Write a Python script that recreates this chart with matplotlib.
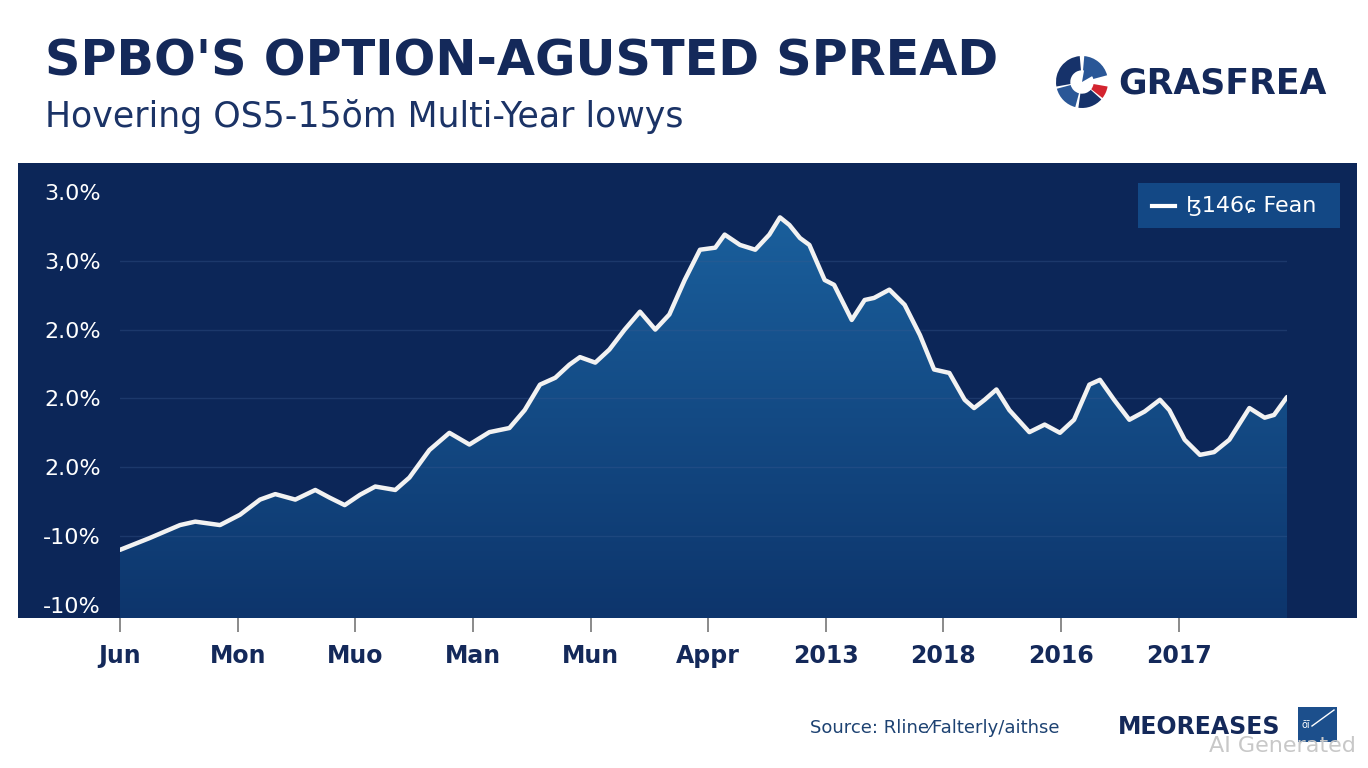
import numpy as np
import matplotlib
matplotlib.use("Agg")
import matplotlib.pyplot as plt
from matplotlib.patches import Rectangle, Wedge
from matplotlib.colors import LinearSegmentedColormap

# --- data ---
x_labels = ["Jun", "Mon", "Muo", "Man", "Mun", "Apрr", "2013", "2018", "2016", "2017"]
y_labels = ["-10%", "-10%", "2.0%", "2.0%", "2.0%", "3,0%", "3.0%"]

spread_x = [0.00, 0.25, 0.51, 0.64, 0.85, 1.02, 1.19, 1.32, 1.49, 1.66, 1.78, 1.91,
            2.04, 2.17, 2.34, 2.46, 2.63, 2.80, 2.97, 3.14, 3.31, 3.44, 3.57, 3.70,
            3.82, 3.91, 4.04, 4.16, 4.29, 4.42, 4.55, 4.67, 4.80, 4.93, 5.06, 5.14,
            5.27, 5.40, 5.52, 5.61, 5.69, 5.78, 5.86, 5.99, 6.07, 6.22, 6.33, 6.41,
            6.54, 6.67, 6.80, 6.92, 7.05, 7.18, 7.26, 7.35, 7.45, 7.56, 7.73, 7.86,
            7.99, 8.11, 8.24, 8.33, 8.45, 8.58, 8.71, 8.84, 8.92, 9.05, 9.18, 9.30,
            9.43, 9.60, 9.73, 9.81, 9.92]
spread_y = [0.80, 0.97, 1.16, 1.21, 1.16, 1.31, 1.53, 1.61, 1.53, 1.67, 1.56, 1.45,
            1.60, 1.72, 1.67, 1.85, 2.25, 2.50, 2.33, 2.51, 2.57, 2.83, 3.20, 3.30,
            3.49, 3.60, 3.52, 3.71, 4.00, 4.26, 4.00, 4.22, 4.72, 5.16, 5.19, 5.38,
            5.23, 5.16, 5.38, 5.63, 5.52, 5.33, 5.23, 4.72, 4.65, 4.14, 4.43, 4.46,
            4.58, 4.36, 3.92, 3.42, 3.37, 2.98, 2.86, 2.98, 3.13, 2.83, 2.51, 2.62,
            2.50, 2.69, 3.20, 3.27, 2.98, 2.69, 2.81, 2.98, 2.83, 2.40, 2.18, 2.22,
            2.40, 2.86, 2.72, 2.76, 3.02]

NAVY = "#0c2658"
TEXT = "#14295a"
W, H = 1368, 768

fig = plt.figure(figsize=(13.68, 7.68), dpi=100)
fig.patch.set_facecolor("white")

# dark panel behind the chart
fig.patches.append(Rectangle((18 / W, 1 - 618 / H), (1357 - 18) / W, (618 - 163) / H,
                             transform=fig.transFigure, facecolor=NAVY,
                             edgecolor="none", zorder=-5))

ax = fig.add_axes([120 / W, 1 - 618 / H, (1287 - 120) / W, (618 - 163) / H])
ax.set_facecolor("none")
ax.set_zorder(1)

ymin, ymax = -0.19, 6.42
xmin, xmax = 0, 9.92

# gradient fill under the curve
poly = ax.fill_between(spread_x, spread_y, ymin, facecolor="none", edgecolor="none")
cmap = LinearSegmentedColormap.from_list("fill", ["#0d356c", "#1a5f9c"])
grad = np.linspace(0, 1, 256).reshape(-1, 1)
img = ax.imshow(grad, extent=[xmin, xmax, ymin, max(spread_y)], aspect="auto",
                cmap=cmap, origin="lower", zorder=1)
img.set_clip_path(poly.get_paths()[0], transform=ax.transData)

for g in [1, 2, 3, 4, 5]:
    ax.axhline(g, color="#3a5a90", lw=1, alpha=0.35, zorder=2)

ax.plot(spread_x, spread_y, color="#f2f2f2", lw=3.2, solid_joinstyle="round",
        solid_capstyle="round", zorder=3)

ax.set_xlim(xmin, xmax)
ax.set_ylim(ymin, ymax)
for s in ax.spines.values():
    s.set_visible(False)

ax.set_xticks(range(len(x_labels)))
ax.set_xticklabels(x_labels, fontsize=17, fontweight="bold", color=TEXT)
ax.tick_params(axis="x", length=10, width=1.2, color="#777777", pad=9)
ax.set_yticks(range(len(y_labels)))
ax.set_yticklabels(y_labels, fontsize=16, color="white")
ax.tick_params(axis="y", length=0, pad=14)

# legend box
fig.patches.append(Rectangle((1138 / W, 1 - 228 / H), (1340 - 1138) / W, 45 / H,
                             transform=fig.transFigure, facecolor="#134885",
                             edgecolor="none", zorder=5))
fig.lines.append(plt.Line2D([1152 / W, 1175 / W], [1 - 206 / H] * 2, color="white",
                            lw=3, transform=fig.transFigure, zorder=6))
fig.text(1186 / W, 1 - 206 / H, "ɮ146ɕ Fean", fontsize=16, color="white",
         va="center", ha="left", zorder=6)

# titles
fig.text(45 / W, 1 - 62 / H, "SPBO'S OPTION-AGUSTED SPREAD", fontsize=35.5,
         fontweight="bold", color=TEXT, va="center", ha="left")
fig.text(45 / W, 1 - 116 / H, "Hovering OS5-15ŏm Multi-Year lowys", fontsize=25,
         color="#1b3366", va="center", ha="left")

# top right emblem
lax = fig.add_axes([1056 / W, 1 - 108 / H, 52 / W, 52 / H])
lax.set_xlim(-1, 1)
lax.set_ylim(-1, 1)
lax.set_aspect("equal")
lax.axis("off")
for t1, t2, c in [(95, 190, "#16326a"), (15, 85, "#2a5797"), (195, 255, "#2a5797"),
                  (262, 318, "#16326a"), (322, 350, "#d3242f")]:
    lax.add_patch(Wedge((0, 0), 1.0, t1, t2, width=0.55, facecolor=c, edgecolor="none"))
lax.add_patch(Wedge((0, 0), 0.5, 30, 80, facecolor="#2a5797", edgecolor="none"))
fig.text(1118 / W, 1 - 84 / H, "GRASFREA", fontsize=25, fontweight="bold",
         color=TEXT, va="center", ha="left")

# footer
fig.text(810 / W, 1 - 728 / H, "Source: Rline⁄Falterly/aithse", fontsize=13,
         color="#1d4272", va="center", ha="left")
fig.text(1118 / W, 1 - 727 / H, "MEOREASES", fontsize=17, fontweight="bold",
         color=TEXT, va="center", ha="left")
fig.patches.append(Rectangle((1298 / W, 1 - 742 / H), 39 / W, 35 / H,
                             transform=fig.transFigure, facecolor="#1c4f8c",
                             edgecolor="none"))
fig.lines.append(plt.Line2D([1312 / W, 1334 / W], [1 - 726 / H, 1 - 710 / H],
                            color="white", lw=1, transform=fig.transFigure))
fig.text(1302 / W, 1 - 725 / H, "ōī", fontsize=7, color="white", va="center")
fig.text(1356 / W, 1 - 746 / H, "AI Generated", fontsize=16, color="#c8c8c8",
         va="center", ha="right")

fig.savefig("out.png", dpi=100)
